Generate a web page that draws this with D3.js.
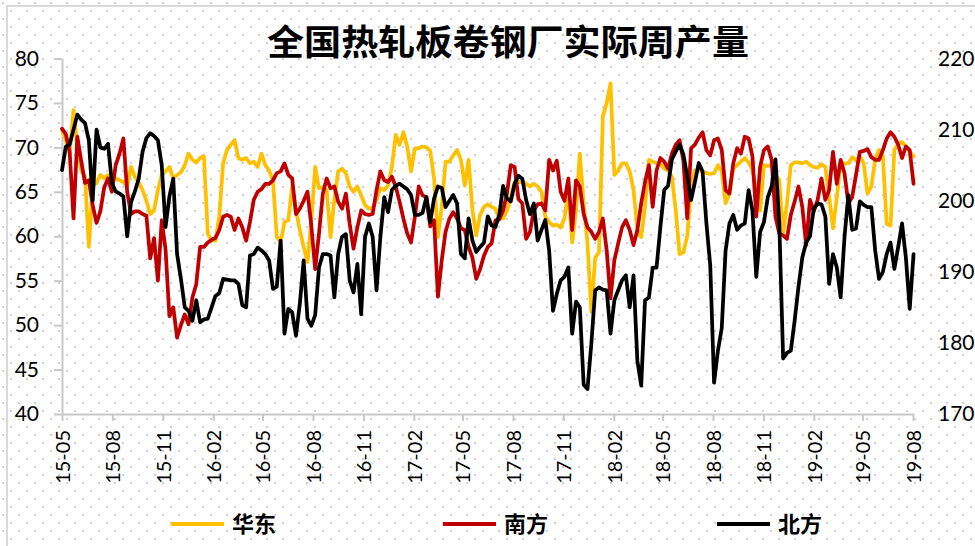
<!DOCTYPE html>
<html>
  <head>
    <meta charset="utf-8">
    <title>全国热轧板卷钢厂实际周产量</title>
    <script src="https://cdn.jsdelivr.net/npm/d3@7"></script>
    <style>
      body { margin: 0; background: #fff; }
      .axis text { font-family: Lato, "Open Sans", sans-serif; fill: #000; }
      .axis path, .axis line { stroke: #c8c8c8; stroke-width: 2; }
    </style>
  </head>
  <body>
    <svg id="chart" width="975" height="546"></svg>
    <script>
      // weekly series, first week starts 2015-05-01
      var startDate = new Date(2015, 4, 1);
      var seriesNames = ["华东", "南方", "北方"];
      var colors = ["#ffc000", "#c00000", "#000000"];
      var leftTicks = [40, 45, 50, 55, 60, 65, 70, 75, 80];
      var rightTicks = [170, 180, 190, 200, 210, 220];

      // 华东 (left axis)
      var huadong = [
        72.0, 70.8, 69.3, 74.2, 70.1, 67.4, 66.7, 58.8, 65.6, 66.0,
        66.9, 66.5, 66.9, 66.5, 66.5, 66.3, 66.1, 65.6, 67.8, 66.7,
        66.1, 65.2, 64.0, 62.5, 62.9, 65.2, 66.9, 67.3, 67.8, 66.5,
        66.9, 67.2, 68.0, 69.3, 68.6, 68.3, 68.8, 69.0, 60.3, 59.5,
        59.5, 62.2, 68.2, 69.7, 70.3, 70.8, 68.8, 68.6, 68.8, 68.2,
        68.4, 67.8, 69.3, 68.0, 67.4, 66.3, 59.9, 59.3, 61.6, 61.8,
        65.6, 62.9, 60.7, 58.8, 57.1, 61.8, 67.8, 65.4, 65.5, 65.2,
        59.9, 64.1, 67.3, 67.6, 67.1, 65.6, 65.0, 65.6, 64.6, 63.5,
        63.1, 63.2, 64.1, 65.4, 65.2, 65.7, 67.8, 71.4, 70.3, 71.7,
        70.1, 67.3, 69.9, 69.9, 70.1, 70.0, 69.6, 66.5, 59.9, 63.3,
        68.4, 68.4, 69.1, 69.7, 68.6, 65.7, 68.6, 62.9, 60.1, 62.4,
        63.3, 63.6, 63.3, 63.1, 62.0, 62.0, 62.9, 64.4, 66.1, 66.1,
        66.1, 65.9, 65.6, 65.9, 65.6, 65.0, 62.2, 61.6, 61.2, 61.3,
        61.0, 62.0, 65.2, 59.3, 62.9, 69.3, 63.7, 59.2, 51.5, 57.6,
        58.2, 73.5, 75.0, 77.2, 66.9, 67.4, 68.2, 68.2, 67.3, 65.2,
        60.7, 59.9, 63.3, 68.6, 68.4, 68.2, 68.2, 67.6, 67.4, 66.7,
        62.9, 58.0, 58.2, 60.0, 65.5, 67.4, 67.4, 67.3, 67.1, 67.0,
        67.1, 68.0, 67.3, 63.7, 64.8, 67.6, 68.0, 68.4, 68.8, 68.3,
        67.5, 65.0, 62.9, 68.0, 67.9, 68.0, 66.9, 66.3, 60.3, 63.7,
        68.0, 68.3, 68.3, 68.2, 68.4, 68.0, 67.8, 67.7, 68.1, 67.8,
        64.4, 60.9, 64.4, 68.2, 68.2, 68.2, 68.9, 68.5, 69.0, 68.2,
        64.8, 65.6, 68.6, 69.7, 69.0, 61.4, 61.2, 69.7, 70.4, 70.6,
        70.1, 69.5, 69.0
      ];

      // 南方 (left axis)
      var nanfang = [
        72.1, 71.5, 69.5, 62.0, 71.2, 68.5, 66.0, 66.3, 63.5, 61.5,
        62.8, 65.5, 66.5, 65.0, 68.0, 69.3, 71.0, 65.0, 62.5, 62.8,
        62.8, 62.5, 62.3, 57.5, 59.8, 55.0, 61.8, 58.5, 51.0, 52.0,
        48.6, 50.0, 51.2, 50.1, 53.1, 54.6, 58.8, 58.8, 59.3, 59.6,
        59.8, 60.7, 62.2, 62.4, 62.2, 60.7, 62.0, 61.0, 59.5, 61.6,
        64.1, 65.0, 65.3, 65.9, 65.9, 66.3, 67.1, 67.3, 68.2, 66.9,
        66.5, 62.5, 63.1, 64.0, 65.0, 61.2, 56.3, 60.3, 64.8, 66.5,
        65.4, 65.6, 63.9, 63.1, 64.8, 61.4, 58.6, 61.0, 62.9, 62.5,
        62.4, 62.5, 65.2, 67.3, 66.3, 66.1, 66.7, 65.6, 63.9, 62.0,
        60.3, 59.3, 62.2, 65.6, 64.6, 64.4, 61.1, 61.8, 53.2, 57.3,
        60.5, 62.0, 62.7, 62.0, 60.9, 60.7, 58.8, 57.6, 55.2, 56.3,
        57.8, 58.8, 59.2, 61.8, 61.9, 62.9, 64.8, 68.0, 67.8, 64.2,
        63.7, 59.7, 60.5, 62.9, 63.6, 63.7, 62.9, 68.6, 67.4, 68.5,
        65.0, 64.0, 66.5, 60.7, 66.3, 65.6, 62.5, 61.0, 60.5, 59.7,
        60.5, 62.0, 58.4, 53.0, 57.3, 59.2, 61.0, 61.8, 60.7, 59.0,
        60.7, 63.7, 66.1, 68.0, 63.3, 67.4, 68.8, 68.4, 67.6, 69.3,
        70.3, 70.8, 68.5, 62.0, 69.9, 70.3, 71.1, 71.7, 69.7, 69.1,
        70.8, 71.0, 69.7, 65.2, 64.8, 68.2, 69.9, 69.3, 71.2, 71.0,
        69.0, 62.2, 67.8, 69.7, 70.1, 68.6, 62.2, 60.3, 60.1, 59.7,
        62.4, 63.9, 65.6, 63.3, 59.0, 64.1, 62.8, 64.1, 66.5, 64.1,
        65.2, 69.5, 65.9, 68.6, 67.1, 63.7, 64.4, 66.9, 69.5, 69.6,
        69.8, 68.9, 68.6, 68.6, 69.7, 71.0, 71.7, 71.2, 70.3, 68.8,
        70.1, 69.7, 65.9
      ];

      // 北方 (right axis)
      var beifang = [
        204.3, 207.6, 207.9, 210.0, 212.1, 211.4, 210.9, 208.5, 200.0, 210.0,
        207.5, 207.3, 208.0, 202.5, 201.3, 201.0, 200.6, 195.0, 199.8, 201.3,
        203.1, 206.9, 208.8, 209.5, 209.1, 208.5, 205.0, 196.3, 200.6, 203.1,
        192.5, 189.0, 185.0, 184.5, 183.1, 186.0, 182.9, 183.3, 183.4, 185.0,
        186.6, 187.0, 189.0, 188.9, 188.8, 188.8, 188.3, 185.3, 185.0, 192.3,
        192.5, 193.4, 193.0, 192.5, 191.6, 187.6, 187.9, 194.4, 181.3, 184.8,
        184.3, 181.0, 185.5, 191.6, 183.4, 182.4, 183.9, 190.6, 192.5, 192.5,
        192.3, 186.4, 192.5, 194.9, 195.3, 188.8, 187.1, 191.1, 184.0, 194.9,
        196.8, 194.9, 187.4, 194.9, 200.5, 198.4, 201.5, 202.1, 202.4, 202.0,
        201.6, 200.8, 198.0, 198.0, 198.3, 200.5, 197.0, 200.3, 202.0, 201.8,
        199.1, 200.0, 200.8, 199.6, 192.5, 191.9, 197.5, 194.4, 192.8, 193.5,
        194.1, 197.8, 196.5, 196.3, 198.0, 202.1, 200.3, 199.9, 202.4, 203.5,
        203.1, 200.1, 198.1, 199.6, 194.4, 195.9, 197.3, 193.0, 184.5, 186.9,
        188.8, 189.3, 190.6, 181.3, 185.8, 185.0, 174.1, 173.5, 179.9, 187.4,
        187.8, 187.5, 187.4, 181.3, 186.0, 187.4, 188.8, 189.5, 185.0, 189.5,
        177.5, 174.0, 186.0, 186.4, 190.6, 190.6, 196.3, 201.5, 202.1, 205.8,
        206.9, 207.9, 206.5, 203.4, 200.1, 202.6, 205.3, 204.1, 196.8, 190.9,
        174.4, 178.9, 182.1, 193.0, 196.8, 198.0, 195.9, 196.5, 196.8, 201.5,
        198.6, 189.3, 195.6, 197.0, 200.5, 202.0, 205.8, 196.8, 177.8, 178.6,
        178.9, 183.1, 187.9, 192.0, 194.1, 195.0, 198.9, 199.6, 199.5, 197.8,
        188.3, 192.5, 190.6, 186.4, 194.9, 200.8, 195.9, 196.1, 199.9, 199.4,
        199.1, 199.1, 193.0, 189.0, 190.0, 192.5, 194.1, 190.4, 193.5, 196.8,
        192.0, 184.8, 192.5
      ];

      var svg = d3.select("#chart");
      var margin = { top: 58.5, right: 913, bottom: 414, left: 62 };

      // dotted background like the original chart area fill
      var defs = svg.append("defs");
      var pat = defs.append("pattern")
        .attr("id", "dots")
        .attr("patternUnits", "userSpaceOnUse")
        .attr("x", 2).attr("y", 2)
        .attr("width", 16).attr("height", 16);
      pat.append("rect").attr("x", 0).attr("y", 0).attr("width", 2).attr("height", 2).attr("fill", "#cfcfcf");
      pat.append("rect").attr("x", 8).attr("y", 8).attr("width", 2).attr("height", 2).attr("fill", "#cfcfcf");
      svg.append("rect").attr("width", 975).attr("height", 546).attr("fill", "#fff");
      svg.append("rect").attr("width", 975).attr("height", 546).attr("fill", "url(#dots)");
      // outer border
      svg.append("path")
        .attr("d", "M7,546V6H975")
        .attr("fill", "none")
        .attr("stroke", "#d9d9d9")
        .attr("stroke-width", 2);

      var dates = huadong.map(function(d, i) { return d3.timeDay.offset(startDate, i * 7); });

      var x = d3.scaleTime()
        .domain([new Date(2015, 4, 1), new Date(2019, 7, 1)])
        .range([margin.left, margin.right]);
      var yL = d3.scaleLinear().domain([40, 80]).range([margin.bottom, margin.top]);
      var yR = d3.scaleLinear().domain([170, 220]).range([margin.bottom, margin.top]);

      // left axis
      var leftAxis = svg.append("g")
        .attr("class", "axis")
        .attr("transform", "translate(" + margin.left + ",0)")
        .call(d3.axisLeft(yL).tickValues(leftTicks).tickSize(8).tickSizeOuter(0).tickPadding(15));
      leftAxis.selectAll("text").style("font-size", "21px");

      // right axis: labels only
      var rightAxis = svg.append("g")
        .attr("class", "axis")
        .attr("transform", "translate(" + margin.right + ",0)")
        .call(d3.axisRight(yR).tickValues(rightTicks).tickSize(0).tickPadding(25));
      rightAxis.select(".domain").remove();
      rightAxis.selectAll("text").style("font-size", "21px");

      // bottom axis, a tick every 3 months from 15-05
      var monthTicks = d3.timeMonth.range(new Date(2015, 4, 1), new Date(2019, 7, 2), 3);
      var bottomAxis = svg.append("g")
        .attr("class", "axis")
        .attr("transform", "translate(0," + margin.bottom + ")")
        .call(d3.axisBottom(x).tickValues(monthTicks).tickFormat(d3.timeFormat("%y-%m")).tickSize(7).tickSizeOuter(0));
      bottomAxis.selectAll("text")
        .style("font-size", "20px")
        .attr("text-anchor", "end")
        .attr("transform", "rotate(-90)")
        .attr("x", -16)
        .attr("y", 0)
        .attr("dy", "0.36em");

      // lines
      var lineL = d3.line()
        .x(function(d, i) { return x(dates[i]); })
        .y(function(d) { return yL(d); });
      var lineR = d3.line()
        .x(function(d, i) { return x(dates[i]); })
        .y(function(d) { return yR(d); });

      var plotted = [[huadong, lineL], [nanfang, lineL], [beifang, lineR]];
      svg.append("g").selectAll("path")
        .data(plotted)
        .enter().append("path")
          .attr("d", function(d) { return d[1](d[0]); })
          .attr("fill", "none")
          .attr("stroke", function(d, i) { return colors[i]; })
          .attr("stroke-width", 3.75)
          .attr("stroke-linejoin", "round")
          .attr("stroke-linecap", "round");

      // title
      svg.append("text")
        .attr("x", 267)
        .attr("y", 55)
        .attr("textLength", 482)
        .attr("lengthAdjust", "spacingAndGlyphs")
        .style("font-family", "'Noto Sans CJK SC', sans-serif")
        .style("font-weight", "bold")
        .style("font-size", "35px")
        .text("全国热轧板卷钢厂实际周产量");

      // legend
      var legendX = [171, 443, 717];
      var legend = svg.append("g").selectAll("g")
        .data(seriesNames)
        .enter().append("g")
          .attr("transform", function(d, i) { return "translate(" + legendX[i] + ",524)"; });
      legend.append("line")
        .attr("x1", 0).attr("x2", 53)
        .attr("stroke", function(d, i) { return colors[i]; })
        .attr("stroke-width", 4);
      legend.append("text")
        .attr("x", 61)
        .attr("dy", "0.36em")
        .style("font-family", "'Noto Sans CJK SC', sans-serif")
        .style("font-weight", "bold")
        .style("font-size", "22px")
        .text(function(d) { return d; });
    </script>
  </body>
</html>
